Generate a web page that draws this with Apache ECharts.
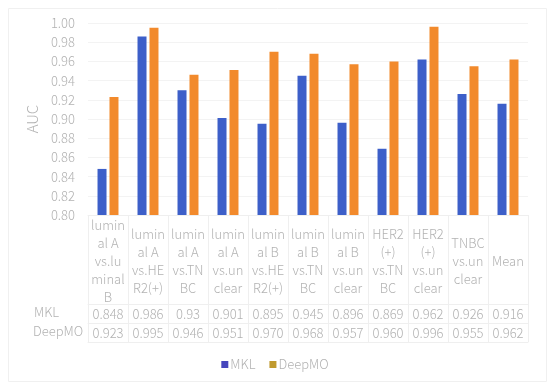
<!DOCTYPE html>
<html>
<head>
<meta charset="utf-8">
<script src="https://cdn.jsdelivr.net/npm/echarts@6/dist/echarts.min.js"></script>
<style>html,body{margin:0;padding:0;background:#fff}#c{width:550px;height:386px}</style>
</head>
<body>
<div id="c"></div>
<script>
var categories = [
  "lumin\nal A\nvs.lu\nminal\nB",
  "lumin\nal A\nvs.HE\nR2(+)",
  "lumin\nal A\nvs.TN\nBC",
  "lumin\nal A\nvs.un\nclear",
  "lumin\nal B\nvs.HE\nR2(+)",
  "lumin\nal B\nvs.TN\nBC",
  "lumin\nal B\nvs.un\nclear",
  "HER2\n(+)\nvs.TN\nBC",
  "HER2\n(+)\nvs.un\nclear",
  "TNBC\nvs.un\nclear",
  "Mean"
];
var mkl = [0.848, 0.986, 0.93, 0.901, 0.895, 0.945, 0.896, 0.869, 0.962, 0.926, 0.916];
var deepmo = [0.923, 0.995, 0.946, 0.951, 0.970, 0.968, 0.957, 0.960, 0.996, 0.955, 0.962];
var seriesNames = ["MKL", "DeepMO"];

var FONT = "'Noto Sans CJK SC', 'Noto Sans', sans-serif";
var W = 300;
var TXT = "#b2b2b2";
var LINE = "#efefef";
var mklText = mkl.map(function (v) { return String(v); });
var deepText = deepmo.map(function (v) { return v.toFixed(3); });

var chart = echarts.init(document.getElementById('c'));
var tableAxis = function (data, offset, showLabels) {
  return {
    type: 'category', position: 'bottom', offset: offset, data: data,
    axisLine: { show: true, lineStyle: { color: LINE } },
    axisTick: { show: false },
    axisLabel: { show: showLabels, interval: 0, margin: 10, verticalAlign: 'middle',
      color: TXT, fontSize: 13, fontFamily: FONT, fontWeight: W },
    splitLine: { show: false }
  };
};
chart.setOption({
  animation: false,
  backgroundColor: '#fff',
  textStyle: { fontFamily: FONT },
  grid: { left: 88, right: 22, top: 23, bottom: 171, containLabel: false },
  legend: {
    data: [
      { name: 'MKL', itemStyle: { color: '#4646bd' } },
      { name: 'DeepMO', itemStyle: { color: '#c09a2e' } }
    ],
    top: 353, left: 'center', itemWidth: 7, itemHeight: 7, itemGap: 14,
    icon: 'rect', textStyle: { color: TXT, fontSize: 13, fontFamily: FONT, fontWeight: W, padding: [0, 0, 0, -3] }
  },
  xAxis: [
    {
      type: 'category', data: categories, position: 'bottom',
      axisLine: { show: true, lineStyle: { color: LINE } },
      axisTick: { show: true, interval: 0, length: 127, lineStyle: { color: LINE } },
      axisLabel: { interval: 0, margin: 46, verticalAlign: 'middle', lineHeight: 18,
        color: TXT, fontSize: 13, fontFamily: FONT, fontWeight: W },
      splitLine: { show: false }
    },
    tableAxis(mklText, 89, true),
    tableAxis(deepText, 108, true),
    tableAxis(categories, 127, false)
  ],
  yAxis: {
    type: 'value', min: 0.8, max: 1.0, interval: 0.02,
    name: 'AUC', nameLocation: 'middle', nameRotate: 90, nameGap: 45,
    nameTextStyle: { color: TXT, fontSize: 15, fontFamily: FONT, fontWeight: W },
    axisLine: { show: false }, axisTick: { show: false },
    axisLabel: { color: TXT, fontSize: 13, fontFamily: FONT, fontWeight: W, margin: 13,
      formatter: function (v) { return v.toFixed(2); } },
    splitLine: { lineStyle: { color: '#f3f3f3' } }
  },
  series: [
    { name: seriesNames[0], type: 'bar', data: mkl, barWidth: 9, barGap: '33%',
      itemStyle: { color: '#3d5fc9' } },
    { name: seriesNames[1], type: 'bar', data: deepmo, barWidth: 9,
      itemStyle: { color: '#f28a2c' } }
  ],
  graphic: [
    { type: 'rect', left: 6, top: 6, shape: { x: 0, y: 0, width: 538, height: 373 },
      style: { fill: 'none', stroke: '#f0f0f0', lineWidth: 1 }, silent: true },
    { type: 'text', left: 34, top: 306, style: { text: 'MKL', fill: TXT, fontSize: 13, fontFamily: FONT, fontWeight: W } },
    { type: 'text', left: 33, top: 325, style: { text: 'DeepMO', fill: TXT, fontSize: 13, fontFamily: FONT, fontWeight: W } }
  ]
});
</script>
</body>
</html>
